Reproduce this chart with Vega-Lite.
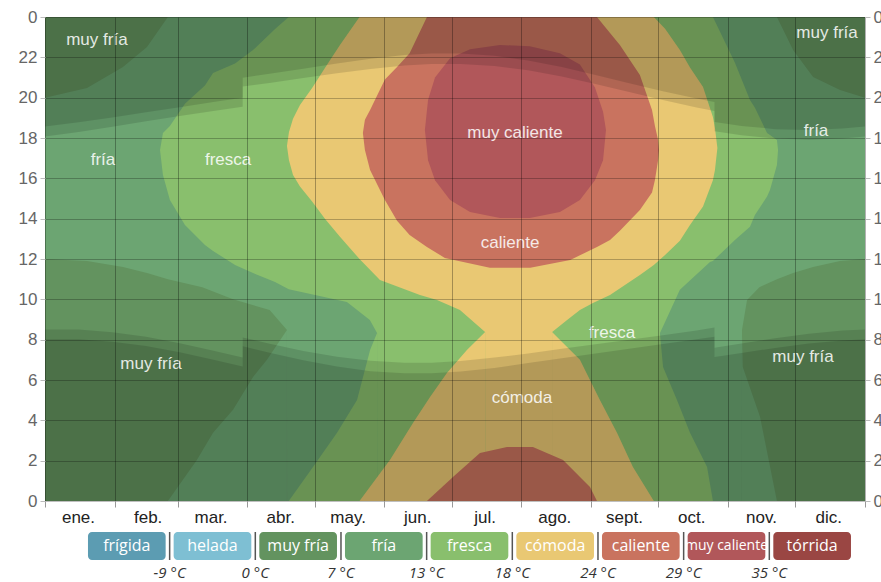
{
  "$schema": "https://vega.github.io/schema/vega-lite/v6.json",
  "background": "white",
  "padding": {"left": 18, "top": 8, "right": 0, "bottom": 0},
  "bounds": "flush",
  "spacing": 31,
  "config": {"font": "Liberation Sans", "view": {"stroke": null}},
  "datasets": {
    "bands": [
      {"c":"muy fría","p":"bg","d":0,"lo":0,"hi":24},
      {"c":"muy fría","p":"bg","d":365,"lo":0,"hi":24},

      {"c":"fría","p":"t","d":0,"lo":12.0,"hi":20.0},
      {"c":"fría","p":"t","d":18.7,"lo":11.9,"hi":20.48},
      {"c":"fría","p":"t","d":34.7,"lo":11.6,"hi":21.52},
      {"c":"fría","p":"t","d":45.4,"lo":11.3,"hi":22.51},
      {"c":"fría","p":"t","d":54.7,"lo":11.0,"hi":24},
      {"c":"fría","p":"t","d":70,"lo":10.6,"hi":24},
      {"c":"fría","p":"t","d":83.7,"lo":10.0,"hi":24},
      {"c":"fría","p":"t","d":100,"lo":9.47,"hi":24},
      {"c":"fría","p":"t","d":107.7,"lo":8.48,"hi":24},
      {"c":"fría","p":"t","d":107.75,"lo":0,"hi":24},
      {"c":"fría","p":"t","d":310.2,"lo":0,"hi":24},
      {"c":"fría","p":"t","d":310.25,"lo":8.48,"hi":24},
      {"c":"fría","p":"t","d":312.5,"lo":9.97,"hi":24},
      {"c":"fría","p":"t","d":318,"lo":10.6,"hi":24},
      {"c":"fría","p":"t","d":325.8,"lo":11.0,"hi":24},
      {"c":"fría","p":"t","d":333,"lo":11.3,"hi":22.36},
      {"c":"fría","p":"t","d":341.9,"lo":11.6,"hi":21.03},
      {"c":"fría","p":"t","d":353.9,"lo":11.9,"hi":20.38},
      {"c":"fría","p":"t","d":365,"lo":12.0,"hi":20.0},
      {"c":"fría","p":"b1","d":54.7,"lo":0,"hi":0},
      {"c":"fría","p":"b1","d":67.6,"lo":0,"hi":2.03},
      {"c":"fría","p":"b1","d":74.8,"lo":0,"hi":3.38},
      {"c":"fría","p":"b1","d":83.7,"lo":0,"hi":4.52},
      {"c":"fría","p":"b1","d":92.6,"lo":0,"hi":6.15},
      {"c":"fría","p":"b1","d":98.8,"lo":0,"hi":7.0},
      {"c":"fría","p":"b1","d":107.7,"lo":0,"hi":8.48},
      {"c":"fría","p":"b2","d":310.2,"lo":0,"hi":8.48},
      {"c":"fría","p":"b2","d":310.6,"lo":0,"hi":6.65},
      {"c":"fría","p":"b2","d":318.3,"lo":0,"hi":4.17},
      {"c":"fría","p":"b2","d":325.8,"lo":0,"hi":0},

      {"c":"fresca","p":"t","d":51.2,"lo":17.41,"hi":17.41},
      {"c":"fresca","p":"t","d":52.5,"lo":16.17,"hi":18.25},
      {"c":"fresca","p":"t","d":55.6,"lo":14.93,"hi":18.6},
      {"c":"fresca","p":"t","d":62.3,"lo":13.69,"hi":19.7},
      {"c":"fresca","p":"t","d":71.2,"lo":12.7,"hi":20.6},
      {"c":"fresca","p":"t","d":74.8,"lo":12.4,"hi":21.22},
      {"c":"fresca","p":"t","d":84.6,"lo":11.7,"hi":21.7},
      {"c":"fresca","p":"t","d":92.6,"lo":11.3,"hi":22.36},
      {"c":"fresca","p":"t","d":102.4,"lo":10.86,"hi":23.4},
      {"c":"fresca","p":"t","d":108.5,"lo":10.5,"hi":24},
      {"c":"fresca","p":"t","d":120.2,"lo":10.22,"hi":24},
      {"c":"fresca","p":"t","d":134.4,"lo":9.87,"hi":24},
      {"c":"fresca","p":"t","d":144.6,"lo":8.98,"hi":24},
      {"c":"fresca","p":"t","d":147.8,"lo":8.33,"hi":24},
      {"c":"fresca","p":"t","d":147.85,"lo":0,"hi":24},
      {"c":"fresca","p":"t","d":273.7,"lo":0,"hi":24},
      {"c":"fresca","p":"t","d":273.75,"lo":8.33,"hi":24},
      {"c":"fresca","p":"t","d":282.6,"lo":10.47,"hi":24},
      {"c":"fresca","p":"t","d":296,"lo":11.85,"hi":24},
      {"c":"fresca","p":"t","d":297.3,"lo":11.9,"hi":24},
      {"c":"fresca","p":"t","d":307.1,"lo":12.94,"hi":21.73},
      {"c":"fresca","p":"t","d":313.8,"lo":13.6,"hi":19.88},
      {"c":"fresca","p":"t","d":316,"lo":14.18,"hi":19.5},
      {"c":"fresca","p":"t","d":321.4,"lo":15.1,"hi":18.25},
      {"c":"fresca","p":"t","d":322.7,"lo":15.42,"hi":18.15},
      {"c":"fresca","p":"t","d":325.8,"lo":16.66,"hi":17.9},
      {"c":"fresca","p":"t","d":326.3,"lo":17.41,"hi":17.41},
      {"c":"fresca","p":"b1","d":108.5,"lo":0,"hi":0},
      {"c":"fresca","p":"b1","d":119.3,"lo":0,"hi":1.69},
      {"c":"fresca","p":"b1","d":130,"lo":0,"hi":3.38},
      {"c":"fresca","p":"b1","d":138.9,"lo":0,"hi":5.01},
      {"c":"fresca","p":"b1","d":144.7,"lo":0,"hi":7.49},
      {"c":"fresca","p":"b1","d":147.8,"lo":0,"hi":8.33},
      {"c":"fresca","p":"b2","d":273.7,"lo":0,"hi":8.33},
      {"c":"fresca","p":"b2","d":275.1,"lo":0,"hi":6.65},
      {"c":"fresca","p":"b2","d":281.3,"lo":0,"hi":5.01},
      {"c":"fresca","p":"b2","d":287.1,"lo":0,"hi":3.38},
      {"c":"fresca","p":"b2","d":294.7,"lo":0,"hi":1.69},
      {"c":"fresca","p":"b2","d":297.3,"lo":0,"hi":0},

      {"c":"cómoda","p":"t","d":107.7,"lo":17.6,"hi":17.6},
      {"c":"cómoda","p":"t","d":108.6,"lo":16.9,"hi":18.3},
      {"c":"cómoda","p":"t","d":110.4,"lo":16.17,"hi":18.95},
      {"c":"cómoda","p":"t","d":113.5,"lo":15.6,"hi":19.64},
      {"c":"cómoda","p":"t","d":118.9,"lo":14.85,"hi":20.48},
      {"c":"cómoda","p":"t","d":124.6,"lo":14.0,"hi":21.47},
      {"c":"cómoda","p":"t","d":131.3,"lo":13.1,"hi":22.61},
      {"c":"cómoda","p":"t","d":140,"lo":12.0,"hi":24},
      {"c":"cómoda","p":"t","d":149.1,"lo":10.96,"hi":24},
      {"c":"cómoda","p":"t","d":166.9,"lo":10.22,"hi":24},
      {"c":"cómoda","p":"t","d":174.5,"lo":9.97,"hi":24},
      {"c":"cómoda","p":"t","d":184.7,"lo":9.47,"hi":24},
      {"c":"cómoda","p":"t","d":195.9,"lo":8.38,"hi":24},
      {"c":"cómoda","p":"t","d":195.95,"lo":0,"hi":24},
      {"c":"cómoda","p":"t","d":225.7,"lo":0,"hi":24},
      {"c":"cómoda","p":"t","d":225.75,"lo":8.38,"hi":24},
      {"c":"cómoda","p":"t","d":232.4,"lo":8.98,"hi":24},
      {"c":"cómoda","p":"t","d":238.1,"lo":9.47,"hi":24},
      {"c":"cómoda","p":"t","d":243.9,"lo":9.82,"hi":24},
      {"c":"cómoda","p":"t","d":251.5,"lo":10.22,"hi":24},
      {"c":"cómoda","p":"t","d":264.8,"lo":11.21,"hi":24},
      {"c":"cómoda","p":"t","d":271,"lo":11.7,"hi":24},
      {"c":"cómoda","p":"t","d":276,"lo":12.2,"hi":23.42},
      {"c":"cómoda","p":"t","d":282.6,"lo":12.9,"hi":22.36},
      {"c":"cómoda","p":"t","d":287.1,"lo":13.69,"hi":21.5},
      {"c":"cómoda","p":"t","d":292.9,"lo":14.6,"hi":20.53},
      {"c":"cómoda","p":"t","d":297.3,"lo":15.9,"hi":19.04},
      {"c":"cómoda","p":"t","d":298.2,"lo":16.4,"hi":18.5},
      {"c":"cómoda","p":"t","d":299.3,"lo":17.5,"hi":17.5},
      {"c":"cómoda","p":"b1","d":140,"lo":0,"hi":0},
      {"c":"cómoda","p":"b1","d":153.6,"lo":0,"hi":2.04},
      {"c":"cómoda","p":"b1","d":163.8,"lo":0,"hi":3.87},
      {"c":"cómoda","p":"b1","d":171.4,"lo":0,"hi":5.16},
      {"c":"cómoda","p":"b1","d":178.9,"lo":0,"hi":6.35},
      {"c":"cómoda","p":"b1","d":187.8,"lo":0,"hi":7.49},
      {"c":"cómoda","p":"b1","d":195.9,"lo":0,"hi":8.38},
      {"c":"cómoda","p":"b2","d":225.7,"lo":0,"hi":8.38},
      {"c":"cómoda","p":"b2","d":231.5,"lo":0,"hi":7.74},
      {"c":"cómoda","p":"b2","d":238.1,"lo":0,"hi":7.0},
      {"c":"cómoda","p":"b2","d":247,"lo":0,"hi":5.01},
      {"c":"cómoda","p":"b2","d":254.6,"lo":0,"hi":3.38},
      {"c":"cómoda","p":"b2","d":261.7,"lo":0,"hi":1.69},
      {"c":"cómoda","p":"b2","d":271,"lo":0,"hi":0},

      {"c":"caliente","p":"t","d":141.5,"lo":18.25,"hi":18.25},
      {"c":"caliente","p":"t","d":142.4,"lo":17.4,"hi":18.9},
      {"c":"caliente","p":"t","d":144.7,"lo":16.41,"hi":19.39},
      {"c":"caliente","p":"t","d":151.3,"lo":14.93,"hi":20.9},
      {"c":"caliente","p":"t","d":156.7,"lo":13.9,"hi":21.52},
      {"c":"caliente","p":"t","d":162.3,"lo":13.19,"hi":22.2},
      {"c":"caliente","p":"t","d":170,"lo":12.6,"hi":24},
      {"c":"caliente","p":"t","d":178,"lo":12.05,"hi":24},
      {"c":"caliente","p":"t","d":198,"lo":11.56,"hi":24},
      {"c":"caliente","p":"t","d":216,"lo":11.56,"hi":24},
      {"c":"caliente","p":"t","d":233.8,"lo":11.95,"hi":24},
      {"c":"caliente","p":"t","d":245.7,"lo":12.6,"hi":24},
      {"c":"caliente","p":"t","d":251.5,"lo":12.94,"hi":23.21},
      {"c":"caliente","p":"t","d":255.9,"lo":13.4,"hi":22.61},
      {"c":"caliente","p":"t","d":264.8,"lo":14.43,"hi":21.12},
      {"c":"caliente","p":"t","d":270.2,"lo":15.3,"hi":19.39},
      {"c":"caliente","p":"t","d":271.5,"lo":15.92,"hi":18.6},
      {"c":"caliente","p":"t","d":272.9,"lo":16.9,"hi":17.9},
      {"c":"caliente","p":"t","d":273.3,"lo":17.4,"hi":17.4},
      {"c":"caliente","p":"b1","d":170,"lo":0,"hi":0},
      {"c":"caliente","p":"b1","d":181.6,"lo":0,"hi":1.19},
      {"c":"caliente","p":"b1","d":193.6,"lo":0,"hi":2.38},
      {"c":"caliente","p":"b1","d":205.6,"lo":0,"hi":2.68},
      {"c":"caliente","p":"b1","d":217.2,"lo":0,"hi":2.68},
      {"c":"caliente","p":"b1","d":230.6,"lo":0,"hi":2.03},
      {"c":"caliente","p":"b1","d":242.6,"lo":0,"hi":0.69},
      {"c":"caliente","p":"b1","d":245.7,"lo":0,"hi":0},

      {"c":"muy caliente","p":"t","d":169.1,"lo":18.4,"hi":18.4},
      {"c":"muy caliente","p":"t","d":170.5,"lo":16.9,"hi":19.89},
      {"c":"muy caliente","p":"t","d":173.6,"lo":15.9,"hi":21.0},
      {"c":"muy caliente","p":"t","d":180.3,"lo":14.93,"hi":21.95},
      {"c":"muy caliente","p":"t","d":189.2,"lo":14.33,"hi":22.4},
      {"c":"muy caliente","p":"t","d":202.5,"lo":14.03,"hi":22.61},
      {"c":"muy caliente","p":"t","d":215.8,"lo":14.03,"hi":22.55},
      {"c":"muy caliente","p":"t","d":229.2,"lo":14.33,"hi":22.2},
      {"c":"muy caliente","p":"t","d":238.1,"lo":14.93,"hi":21.65},
      {"c":"muy caliente","p":"t","d":244.8,"lo":15.9,"hi":20.5},
      {"c":"muy caliente","p":"t","d":248.4,"lo":16.9,"hi":19.3},
      {"c":"muy caliente","p":"t","d":249.7,"lo":18.4,"hi":18.4}
    ],
    "sun": [
      {"d":0,"rise":8.51,"set":18.08,"dawn":8.02,"dusk":18.57},
      {"d":15,"rise":8.50,"set":18.30,"dawn":8.02,"dusk":18.78},
      {"d":30,"rise":8.37,"set":18.56,"dawn":7.90,"dusk":19.02},
      {"d":45,"rise":8.14,"set":18.83,"dawn":7.69,"dusk":19.28},
      {"d":60,"rise":7.82,"set":19.09,"dawn":7.38,"dusk":19.53},
      {"d":75,"rise":7.45,"set":19.34,"dawn":7.01,"dusk":19.78},
      {"d":88,"rise":7.11,"set":19.55,"dawn":6.67,"dusk":19.99},
      {"d":88.01,"rise":8.11,"set":20.55,"dawn":7.67,"dusk":20.99},
      {"d":100,"rise":7.80,"set":20.73,"dawn":7.35,"dusk":21.18},
      {"d":115,"rise":7.44,"set":20.97,"dawn":6.98,"dusk":21.43},
      {"d":130,"rise":7.15,"set":21.21,"dawn":6.67,"dusk":21.69},
      {"d":145,"rise":6.95,"set":21.42,"dawn":6.44,"dusk":21.93},
      {"d":160,"rise":6.86,"set":21.59,"dawn":6.34,"dusk":22.11},
      {"d":172,"rise":6.86,"set":21.67,"dawn":6.34,"dusk":22.19},
      {"d":185,"rise":6.94,"set":21.67,"dawn":6.42,"dusk":22.19},
      {"d":200,"rise":7.11,"set":21.57,"dawn":6.60,"dusk":22.08},
      {"d":215,"rise":7.32,"set":21.36,"dawn":6.84,"dusk":21.84},
      {"d":230,"rise":7.55,"set":21.05,"dawn":7.08,"dusk":21.52},
      {"d":245,"rise":7.77,"set":20.68,"dawn":7.32,"dusk":21.13},
      {"d":260,"rise":7.99,"set":20.28,"dawn":7.55,"dusk":20.72},
      {"d":275,"rise":8.22,"set":19.88,"dawn":7.78,"dusk":20.32},
      {"d":290,"rise":8.46,"set":19.51,"dawn":8.02,"dusk":19.96},
      {"d":298,"rise":8.60,"set":19.34,"dawn":8.14,"dusk":19.79},
      {"d":298.01,"rise":7.60,"set":18.34,"dawn":7.14,"dusk":18.79},
      {"d":310,"rise":7.81,"set":18.14,"dawn":7.34,"dusk":18.60},
      {"d":325,"rise":8.07,"set":17.97,"dawn":7.59,"dusk":18.44},
      {"d":340,"rise":8.29,"set":17.91,"dawn":7.81,"dusk":18.40},
      {"d":355,"rise":8.46,"set":17.98,"dawn":7.96,"dusk":18.47},
      {"d":365,"rise":8.51,"set":18.08,"dawn":8.02,"dusk":18.57}
    ],
    "labels": [
      {"t":"muy fría","d":23.1,"h":22.86},
      {"t":"muy fría","d":348.1,"h":23.21},
      {"t":"fría","d":25.8,"h":16.91},
      {"t":"fresca","d":81.5,"h":16.91},
      {"t":"muy caliente","d":209.2,"h":18.25},
      {"t":"fría","d":343.2,"h":18.35},
      {"t":"caliente","d":207.0,"h":12.8},
      {"t":"fresca","d":252.4,"h":8.33},
      {"t":"muy fría","d":47.2,"h":6.8},
      {"t":"cómoda","d":212.3,"h":5.11},
      {"t":"muy fría","d":337.4,"h":7.14}
    ],
    "legend": [
      {"c":"frígida","t":""},
      {"c":"helada","t":"-9 °C"},
      {"c":"muy fría","t":"0 °C"},
      {"c":"fría","t":"7 °C"},
      {"c":"fresca","t":"13 °C"},
      {"c":"cómoda","t":"18 °C"},
      {"c":"caliente","t":"24 °C"},
      {"c":"muy caliente","t":"29 °C"},
      {"c":"tórrida","t":"35 °C"}
    ]
  },
  "vconcat": [
    {
      "width": 820,
      "height": 484,
      "resolve": {"axis": {"y": "independent"}},
      "layer": [
        {
          "data": {"name": "bands"},
          "transform": [{"filter": "datum.c == 'muy fría'"}],
          "mark": {"type": "area", "opacity": 1},
          "encoding": {
            "x": {"field": "d", "type": "quantitative", "scale": {"domain": [0, 365], "nice": false, "zero": false},
              "axis": {"title": null, "values": [0,31,59,90,120,151,181,212,243,273,304,334,365],
                "labelExpr": "['ene.','feb.','mar.','abr.','may.','jun.','jul.','ago.','sept.','oct.','nov.','dic.',''][indexof([0,31,59,90,120,151,181,212,243,273,304,334,365], datum.value)]",
                "labelOffset": 33, "labelFlush": false, "labelOverlap": false, "labelBound": false,
                "grid": true, "gridColor": "#000", "gridOpacity": 0.3, "tickSize": 6, "tickColor": "#999",
                "labelColor": "#222", "labelFontSize": 17, "labelPadding": 2, "domain": false, "zindex": 1}},
            "y": {"field": "lo", "type": "quantitative", "scale": {"domain": [0, 24], "nice": false, "zero": false},
              "axis": {"title": null, "orient": "left", "values": [0,2,4,6,8,10,12,14,16,18,20,22,24],
                "labelExpr": "'' + (datum.value % 24)", "grid": true, "gridColor": "#000", "gridOpacity": 0.25,
                "tickSize": 5, "tickColor": "#bbb", "labelColor": "#666", "labelFontSize": 17, "labelPadding": 3,
                "domain": false, "zindex": 1}},
            "y2": {"field": "hi"},
            "detail": {"field": "p"},
            "color": {"field": "c", "type": "nominal", "legend": null,
              "scale": {"domain": ["frígida","helada","muy fría","fría","fresca","cómoda","caliente","muy caliente","tórrida"],
                "range": ["#5c9cb2","#7ebfd3","#63935f","#6ca572","#89bf6d","#e9c873","#c9735f","#b1575a","#9a4643"]}}
          }
        },
        {
          "data": {"name": "bands"},
          "transform": [{"filter": "datum.c == 'fría'"}],
          "mark": {"type": "area", "opacity": 1},
          "encoding": {
            "x": {"field": "d", "type": "quantitative"},
            "y": {"field": "lo", "type": "quantitative", "axis": null},
            "y2": {"field": "hi"},
            "detail": {"field": "p"},
            "color": {"field": "c", "type": "nominal", "legend": null}
          }
        },
        {
          "data": {"name": "bands"},
          "transform": [{"filter": "datum.c == 'fresca'"}],
          "mark": {"type": "area", "opacity": 1},
          "encoding": {
            "x": {"field": "d", "type": "quantitative"},
            "y": {"field": "lo", "type": "quantitative", "axis": null},
            "y2": {"field": "hi"},
            "detail": {"field": "p"},
            "color": {"field": "c", "type": "nominal", "legend": null}
          }
        },
        {
          "data": {"name": "bands"},
          "transform": [{"filter": "datum.c == 'cómoda'"}],
          "mark": {"type": "area", "opacity": 1},
          "encoding": {
            "x": {"field": "d", "type": "quantitative"},
            "y": {"field": "lo", "type": "quantitative", "axis": null},
            "y2": {"field": "hi"},
            "detail": {"field": "p"},
            "color": {"field": "c", "type": "nominal", "legend": null}
          }
        },
        {
          "data": {"name": "bands"},
          "transform": [{"filter": "datum.c == 'caliente'"}],
          "mark": {"type": "area", "opacity": 1},
          "encoding": {
            "x": {"field": "d", "type": "quantitative"},
            "y": {"field": "lo", "type": "quantitative", "axis": null},
            "y2": {"field": "hi"},
            "detail": {"field": "p"},
            "color": {"field": "c", "type": "nominal", "legend": null}
          }
        },
        {
          "data": {"name": "bands"},
          "transform": [{"filter": "datum.c == 'muy caliente'"}],
          "mark": {"type": "area", "opacity": 1},
          "encoding": {
            "x": {"field": "d", "type": "quantitative"},
            "y": {"field": "lo", "type": "quantitative", "axis": null},
            "y2": {"field": "hi"},
            "detail": {"field": "p"},
            "color": {"field": "c", "type": "nominal", "legend": null}
          }
        },
        {
          "data": {"name": "sun"},
          "mark": {"type": "area", "color": "#000", "opacity": 0.12},
          "encoding": {
            "x": {"field": "d", "type": "quantitative"},
            "y": {"field": "rise", "type": "quantitative", "axis": null},
            "y2": {"datum": 0}
          }
        },
        {
          "data": {"name": "sun"},
          "mark": {"type": "area", "color": "#000", "opacity": 0.12},
          "encoding": {
            "x": {"field": "d", "type": "quantitative"},
            "y": {"field": "set", "type": "quantitative", "axis": null},
            "y2": {"datum": 24}
          }
        },
        {
          "data": {"name": "sun"},
          "mark": {"type": "area", "color": "#000", "opacity": 0.12},
          "encoding": {
            "x": {"field": "d", "type": "quantitative"},
            "y": {"field": "dawn", "type": "quantitative", "axis": null},
            "y2": {"datum": 0}
          }
        },
        {
          "data": {"name": "sun"},
          "mark": {"type": "area", "color": "#000", "opacity": 0.12},
          "encoding": {
            "x": {"field": "d", "type": "quantitative"},
            "y": {"field": "dusk", "type": "quantitative", "axis": null},
            "y2": {"datum": 24}
          }
        },
        {
          "data": {"name": "labels"},
          "mark": {"type": "text", "fontSize": 17, "color": "#ffffff", "opacity": 0.85, "font": "Liberation Sans"},
          "encoding": {
            "x": {"field": "d", "type": "quantitative"},
            "y": {"field": "h", "type": "quantitative",
              "axis": {"title": null, "orient": "right", "values": [0,2,4,6,8,10,12,14,16,18,20,22,24],
                "labelExpr": "'' + (datum.value % 24)", "grid": false,
                "tickSize": 5, "tickColor": "#bbb", "labelColor": "#666", "labelFontSize": 17, "labelPadding": 3,
                "domain": false, "zindex": 1}},
            "text": {"field": "t"}
          }
        }
      ]
    },
    {
      "width": 820,
      "height": 28,
      "data": {"name": "legend"},
      "encoding": {
        "x": {"field": "c", "type": "nominal", "axis": null,
          "scale": {"domain": ["frígida","helada","muy fría","fría","fresca","cómoda","caliente","muy caliente","tórrida"],
            "paddingInner": 0.0934, "paddingOuter": 0.3327, "align": 0.754}}
      },
      "layer": [
        {
          "mark": {"type": "rect", "cornerRadius": 4},
          "encoding": {
            "color": {"field": "c", "type": "nominal", "legend": null,
              "scale": {"domain": ["frígida","helada","muy fría","fría","fresca","cómoda","caliente","muy caliente","tórrida"],
                "range": ["#5c9cb2","#7ebfd3","#63935f","#6ca572","#89bf6d","#e9c873","#c9735f","#b1575a","#9a4643"]}}
          }
        },
        {
          "mark": {"type": "text", "color": "#ffffff", "font": "Open Sans"},
          "encoding": {
            "text": {"field": "c"},
            "size": {"condition": {"test": "datum.c == 'muy caliente'", "value": 14}, "value": 16}
          }
        },
        {
          "transform": [{"filter": "datum.t != ''"}],
          "mark": {"type": "rule", "color": "#555", "strokeWidth": 1.5, "xOffset": -4},
          "encoding": {"x": {"field": "c", "type": "nominal", "bandPosition": 0}}
        },
        {
          "transform": [{"filter": "datum.t != ''"}],
          "mark": {"type": "text", "color": "#333", "fontSize": 15, "fontStyle": "italic", "font": "Open Sans", "xOffset": -4, "dy": 27},
          "encoding": {"x": {"field": "c", "type": "nominal", "bandPosition": 0}, "text": {"field": "t"}}
        }
      ]
    }
  ]
}
